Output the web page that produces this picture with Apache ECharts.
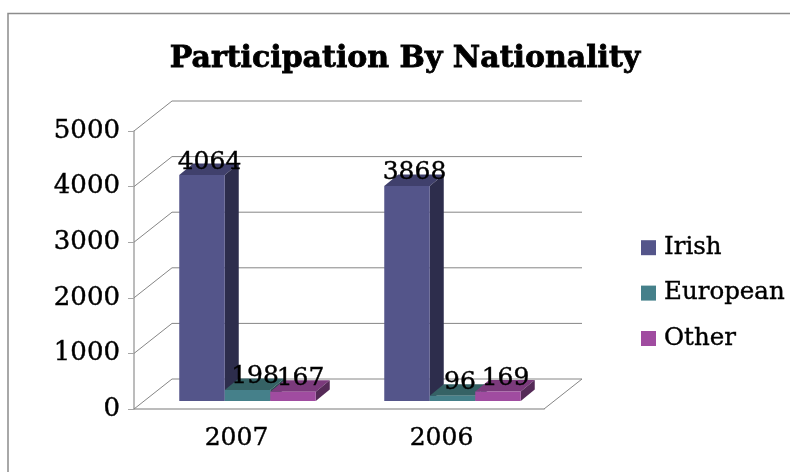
<!DOCTYPE html>
<html>
<head>
<meta charset="utf-8">
<title>Participation By Nationality</title>
<script src="https://cdn.jsdelivr.net/npm/echarts@6/dist/echarts.min.js"></script>
<style>
  html, body { margin: 0; padding: 0; background: #fff; }
  #chart { width: 790px; height: 472px; }
</style>
</head>
<body>
<div id="chart"></div>
<script>
const years = ['2007', '2006'];
const irish = [4064, 3868];
const european = [198, 96];
const other = [167, 169];
const yTicks = [0, 1000, 2000, 3000, 4000, 5000];

const FONT = '"DejaVu Serif", serif';
// depth of the floor/walls, and of a single bar
const WALL_DX = 38, WALL_DY = 30;
const BAR_DX = 14, BAR_DY = 11.5;
const BAR_W = 45.5;
const BASE_UP = 8;   // bars stand a little way back on the floor
const BASE_DX = 11;

// the source text is heavier than plain DejaVu Serif, a thin outline gets close
const heavy = { textBorderColor: '#000', textBorderWidth: 0.4 };

const colors = {
  Irish: { front: '#54558a', top: '#40406c', side: '#2d2d4c' },
  European: { front: '#45808a', top: '#356265', side: '#2a4f52' },
  Other: { front: '#a04ca0', top: '#7b3a7c', side: '#552a57' }
};

const poly = (points, fill) => ({
  type: 'polygon',
  shape: { points },
  style: { fill, stroke: null }
});

// one 3D box for each category, offset by slot (0, 1, 2) inside the cluster
function barRenderer(name, slot) {
  const c = colors[name];
  return function (params, api) {
    const p0 = api.coord([api.value(0), 0]);
    const p1 = api.coord([api.value(0), api.value(1)]);
    const x0 = p0[0] + BASE_DX + (slot - 1.5) * BAR_W;
    const x1 = x0 + BAR_W;
    const yb = p0[1] - BASE_UP;
    const yt = p1[1] - BASE_UP;
    return {
      type: 'group',
      children: [
        poly([[x0, yt], [x1, yt], [x1 + BAR_DX, yt - BAR_DY], [x0 + BAR_DX, yt - BAR_DY]], c.top),
        poly([[x1, yb], [x1 + BAR_DX, yb - BAR_DY], [x1 + BAR_DX, yt - BAR_DY], [x1, yt]], c.side),
        { type: 'rect', shape: { x: x0, y: yt, width: BAR_W, height: yb - yt }, style: { fill: c.front } }
      ]
    };
  };
}

function barSeries(name, values, slot) {
  return {
    name,
    type: 'custom',
    coordinateSystem: 'cartesian2d',
    renderItem: barRenderer(name, slot),
    itemStyle: { color: colors[name].front },
    encode: { x: 0, y: 1 },
    z: 3,
    data: values.map((v, i) => [i, v])
  };
}

const option = {
  animation: false,
  backgroundColor: '#fff',
  title: {
    text: 'Participation By Nationality',
    left: 400,
    top: 39,
    textAlign: 'center',
    textStyle: { fontFamily: FONT, fontWeight: 'bold', fontSize: 30, color: '#000', textBorderColor: '#000', textBorderWidth: 0.8 }
  },
  graphic: [{
    type: 'rect',
    silent: true,
    shape: { x: 8, y: 13.5, width: 800, height: 500 },
    style: { fill: 'none', stroke: '#8c8c8c', lineWidth: 1.5 }
  }],
  legend: {
    orient: 'vertical',
    left: 636,
    top: 230,
    itemWidth: 15,
    itemHeight: 15,
    itemGap: 20,
    icon: 'rect',
    data: ['Irish', 'European', 'Other'],
    textStyle: { fontFamily: FONT, fontSize: 24.5, color: '#000', padding: [0, 0, 0, 3], ...heavy }
  },
  grid: { left: 134, right: 246, top: 131, bottom: 63 },
  xAxis: {
    type: 'category',
    data: years,
    axisLine: { lineStyle: { color: '#a6a6a6', width: 1.5 } },
    axisTick: { length: 6, lineStyle: { color: '#a6a6a6' } },
    axisLabel: { fontFamily: FONT, fontSize: 25, color: '#000', margin: 17, hideOverlap: false, ...heavy }
  },
  yAxis: {
    type: 'value',
    min: 0,
    max: 5000,
    interval: 1000,
    axisLine: { show: true, lineStyle: { color: '#a6a6a6', width: 1.5 } },
    axisTick: { show: true, length: 6, lineStyle: { color: '#a6a6a6' } },
    axisLabel: {
      fontFamily: FONT,
      fontSize: 26,
      color: '#000',
      margin: 14,
      verticalAlign: 'middle',
      formatter: v => String(v),
      ...heavy
    },
    splitLine: { show: false }
  },
  series: [
    {
      // back wall grid lines, with the slanted part on the side wall
      name: 'walls',
      type: 'custom',
      silent: true,
      z: 1,
      encode: { y: 0 },
      data: yTicks.map(v => [v]),
      renderItem(params, api) {
        const size = api.size([1, 0]);
        const front = api.coord([0, api.value(0)]);
        const x0 = front[0] - size[0] / 2;
        const x1 = x0 + size[0] * years.length;
        const y = front[1];
        const pts = [[x0, y], [x0 + WALL_DX, y - WALL_DY], [x1 + WALL_DX, y - WALL_DY]];
        if (api.value(0) === 0) {
          pts.push([x1, y]);
        }
        return {
          type: 'polyline',
          shape: { points: pts },
          style: { fill: null, stroke: '#868686', lineWidth: 1 }
        };
      }
    },
    barSeries('Irish', irish, 0),
    barSeries('European', european, 1),
    barSeries('Other', other, 2),
    {
      // data labels sit above every bar, so they get their own series
      name: 'labels',
      type: 'custom',
      silent: true,
      z: 5,
      encode: { x: 0, y: 1 },
      data: [irish, european, other].flatMap((vals, slot) => vals.map((v, i) => [i, v, slot])),
      renderItem(params, api) {
        const p = api.coord([api.value(0), api.value(1)]);
        const cx = p[0] + BASE_DX + (api.value(2) - 1) * BAR_W + 7.5;
        return {
          type: 'text',
          style: {
            x: cx,
            y: p[1] - BASE_UP - 13,
            text: String(api.value(1)),
            fontFamily: FONT,
            fontSize: 25,
            fill: '#000',
            align: 'center',
            verticalAlign: 'middle',
            stroke: '#000',
            lineWidth: 0.4
          }
        };
      }
    }
  ]
};

const chart = echarts.init(document.getElementById('chart'));
chart.setOption(option);
</script>
</body>
</html>
